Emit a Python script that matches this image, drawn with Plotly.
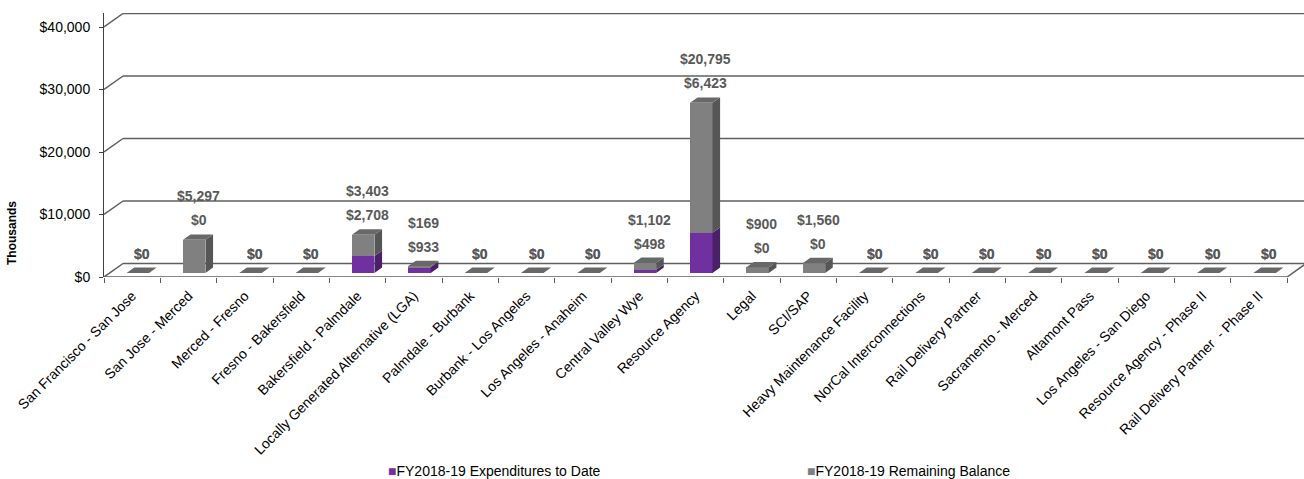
import plotly.graph_objects as go

# ---- data (thousands of dollars) ----
categories = [
    "San Francisco - San Jose", "San Jose - Merced", "Merced - Fresno",
    "Fresno - Bakersfield", "Bakersfield - Palmdale",
    "Locally Generated Alternative (LGA)", "Palmdale - Burbank",
    "Burbank - Los Angeles", "Los Angeles - Anaheim", "Central Valley Wye",
    "Resource Agency", "Legal", "SCI/SAP", "Heavy Maintenance Facility",
    "NorCal Interconnections", "Rail Delivery Partner", "Sacramento - Merced",
    "Altamont Pass", "Los Angeles - San Diego", "Resource Agency - Phase II",
    "Rail Delivery Partner  - Phase II",
]
expenditures = [0, 0, 0, 0, 2708, 933, 0, 0, 0, 498, 6423, 0, 0, 0, 0, 0, 0, 0, 0, 0, 0]
remaining = [0, 5297, 0, 0, 3403, 169, 0, 0, 0, 1102, 20795, 900, 1560, 0, 0, 0, 0, 0, 0, 0, 0]
y_ticks = [0, 10000, 20000, 30000, 40000]
series_names = ["FY2018-19 Expenditures to Date", "FY2018-19 Remaining Balance"]

# ---- styling / pseudo-3D geometry ----
FONT = "Liberation Sans, Arial, sans-serif"
PURPLE, PURPLE_SIDE = "#7030A0", "#4B206B"
GRAY, GRAY_SIDE, GRAY_TOP = "#808080", "#565656", "#686868"
GRID = "#5f5f5f"

W, H = 1304, 479
M_L, M_R, M_T, M_B = 104, 0, 13, 202
X_MAX = 21.3
Y_MAX = 42240

px_x = (W - M_L - M_R) / X_MAX          # pixels per x unit
px_y = (H - M_T - M_B) / Y_MAX          # pixels per y unit
DX = 19 / px_x                          # full depth offset, x
DY = 13.5 / px_y                        # full depth offset, y
F0, F1 = 0.3, 0.7                       # bar front / back depth fractions
BAR_W = 22.5 / px_x

n = len(categories)
centers = [i + 0.5 for i in range(n)]
totals = [e + r for e, r in zip(expenditures, remaining)]

fig = go.Figure()

# side faces of each stacked segment
def side_polys(lows, highs):
    xs, ys = [], []
    for c, lo, hi in zip(centers, lows, highs):
        if hi <= lo:
            continue
        xr = c + F0 * DX + BAR_W / 2
        b = F0 * DY
        ddx, ddy = (F1 - F0) * DX, (F1 - F0) * DY
        xs += [xr, xr + ddx, xr + ddx, xr, xr, None]
        ys += [b + lo, b + lo + ddy, b + hi + ddy, b + hi, b + lo, None]
    return xs, ys

for lows, highs, col in [
    ([0] * n, expenditures, PURPLE_SIDE),
    (expenditures, totals, GRAY_SIDE),
]:
    sx, sy = side_polys(lows, highs)
    fig.add_trace(go.Scatter(x=sx, y=sy, mode="lines", fill="toself",
                             fillcolor=col, line=dict(width=0),
                             hoverinfo="skip", showlegend=False))

# top faces
tx, ty = [], []
for c, t in zip(centers, totals):
    xl = c + F0 * DX - BAR_W / 2
    xr = c + F0 * DX + BAR_W / 2
    b = F0 * DY + t
    ddx, ddy = (F1 - F0) * DX, (F1 - F0) * DY
    tx += [xl, xr, xr + ddx, xl + ddx, xl, None]
    ty += [b, b, b + ddy, b + ddy, b, None]
fig.add_trace(go.Scatter(x=tx, y=ty, mode="lines", fill="toself",
                         fillcolor=GRAY_TOP, line=dict(width=0),
                         hoverinfo="skip", showlegend=False))

# front faces (stacked)
front_x = [c + F0 * DX for c in centers]
fig.add_trace(go.Bar(x=front_x, y=expenditures, base=[F0 * DY] * n,
                     width=BAR_W, marker=dict(color=PURPLE, line=dict(width=0)),
                     name=series_names[0], showlegend=False))
fig.add_trace(go.Bar(x=front_x, y=remaining,
                     base=[F0 * DY + e for e in expenditures],
                     width=BAR_W, marker=dict(color=GRAY, line=dict(width=0)),
                     name=series_names[1], showlegend=False))

# back wall gridlines with their depth diagonals, floor edges
shapes = []
for v in y_ticks:
    shapes.append(dict(type="line", xref="x", yref="y", x0=0, y0=v, x1=DX, y1=v + DY,
                       line=dict(color=GRID, width=1.5), layer="below"))
    shapes.append(dict(type="line", xref="x", yref="y", x0=DX, y0=v + DY,
                       x1=X_MAX + 1, y1=v + DY,
                       line=dict(color=GRID, width=1.5), layer="below"))
shapes.append(dict(type="line", xref="x", yref="y", x0=0, y0=0, x1=n, y1=0,
                   line=dict(color=GRID, width=1.5), layer="below"))
shapes.append(dict(type="line", xref="x", yref="y", x0=n, y0=0, x1=n + DX, y1=DY,
                   line=dict(color=GRID, width=1.5), layer="below"))

# data labels: remaining balance above expenditures
annotations = []
lab_font = dict(family=FONT, size=14, color="#595959")
for c, e, r, t in zip(centers, expenditures, remaining, totals):
    top = t + F1 * DY
    annotations.append(dict(x=c + 10 / px_x, y=top, xref="x", yref="y",
                            text=f"<b>${e:,.0f}</b>", showarrow=False,
                            yshift=14, font=lab_font))
    annotations.append(dict(x=c + 10 / px_x, y=top, xref="x", yref="y",
                            text=f"<b>${r:,.0f}</b>", showarrow=False,
                            yshift=38 if t > 0 else 14, font=lab_font))

plot_w, plot_h = W - M_L - M_R, H - M_T - M_B
def paper_x(px):
    return (px - M_L) / plot_w
def paper_y(py):
    return (H - M_B - py) / plot_h

annotations.append(dict(x=paper_x(12), y=paper_y(233), xref="paper", yref="paper",
                        xanchor="center", yanchor="middle",
                        text="<b>Thousands</b>", textangle=-90, showarrow=False,
                        font=dict(family=FONT, size=12, color="#000000")))

# legend
for x0, name, col in [(386, series_names[0], PURPLE), (805, series_names[1], GRAY)]:
    annotations.append(dict(x=paper_x(x0), y=paper_y(471), xref="paper", yref="paper",
                            xanchor="left", yanchor="middle", showarrow=False,
                            text=f'<span style="color:{col}">■</span>{name}',
                            font=dict(family=FONT, size=14, color="#000000")))

fig.update_layout(
    width=W, height=H, autosize=False,
    margin=dict(l=M_L, r=M_R, t=M_T, b=M_B, pad=0),
    paper_bgcolor="white", plot_bgcolor="white",
    barmode="overlay", bargap=0,
    font=dict(family=FONT, size=14, color="#000000"),
    shapes=shapes, annotations=annotations,
    showlegend=False,
    xaxis=dict(range=[0, X_MAX], tickvals=centers, ticktext=categories,
               tickangle=-45, ticks="", showgrid=False, zeroline=False,
               showline=False, ticklabelstandoff=7,
               tickfont=dict(family=FONT, size=14, color="#000000"),
               minor=dict(tickvals=list(range(n + 1)), ticks="outside",
                          ticklen=5, tickcolor=GRID, tickwidth=1, showgrid=False)),
    yaxis=dict(range=[0, Y_MAX], tickvals=y_ticks, tickformat="$,.0f",
               ticks="outside", ticklen=4, tickcolor="#404040",
               showline=True, linecolor="#404040", linewidth=1,
               showgrid=False, zeroline=False, ticklabelstandoff=6,
               tickfont=dict(family=FONT, size=14, color="#000000")),
)

fig.write_html("out.html")
